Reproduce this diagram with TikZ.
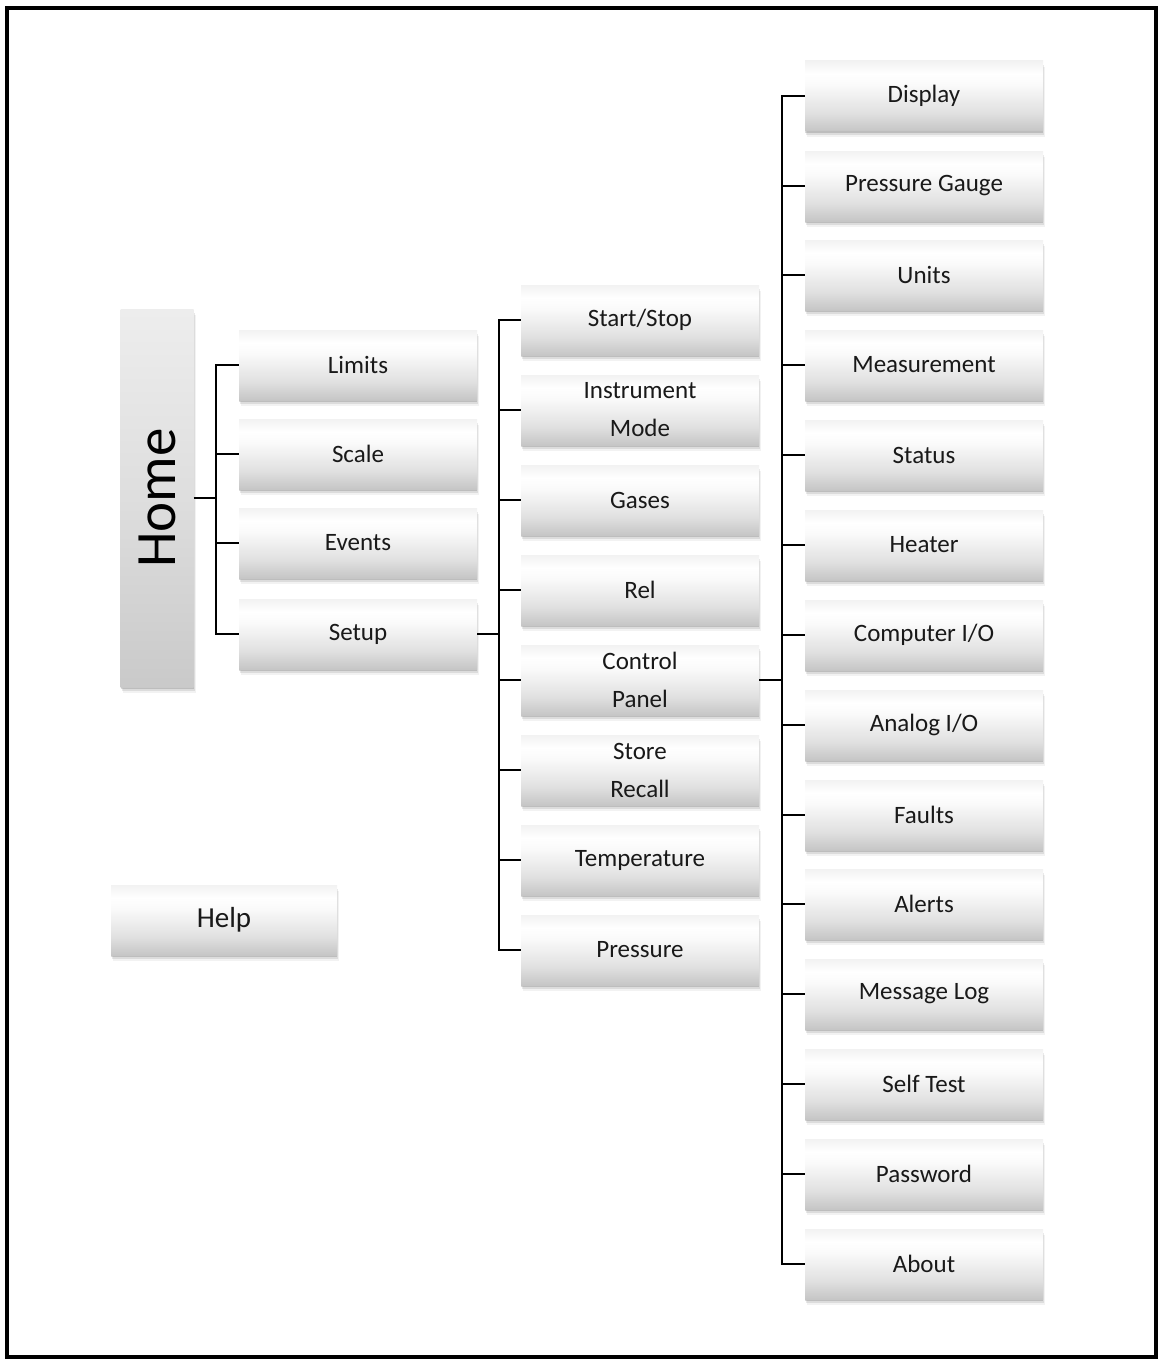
\documentclass[tikz,border=0pt]{standalone}
\usepackage{fontspec}
\setmainfont{Carlito}
\usetikzlibrary{shadows}
\pgfdeclareverticalshading{btnshade}{100bp}{color(0bp)=(gray!45); color(25bp)=(gray!45); color(38bp)=(gray!24); color(58bp)=(gray!4); color(66bp)=(white); color(75bp)=(gray!10); color(100bp)=(gray!10)}
\pgfdeclareverticalshading{homeshade}{100bp}{color(0bp)=(gray!42); color(25bp)=(gray!42); color(50bp)=(gray!26); color(75bp)=(gray!14); color(100bp)=(gray!14)}
\tikzset{
  softshadow/.style={
    drop shadow={shadow xshift=0pt, shadow yshift=-2pt, opacity=0.14, fill=black},
    drop shadow={shadow xshift=1pt, shadow yshift=-4pt, opacity=0.09, fill=black},
    drop shadow={shadow xshift=2pt, shadow yshift=-6pt, opacity=0.05, fill=black}},
  btn/.style={shading=btnshade, draw=none, minimum width=238pt, minimum height=70pt,
    inner sep=0pt, align=center, text=black!90,
    font=\fontsize{25}{38}\selectfont, softshadow},
  homebox/.style={shading=homeshade, draw=none, minimum width=73pt, minimum height=378pt,
    inner sep=0pt, font=\fontsize{57}{60}\selectfont, softshadow},
  link/.style={line width=2.4pt, black},
}
\begin{document}
\begin{tikzpicture}[x=1pt,y=-1pt]
\useasboundingbox (0,0) rectangle (1162,1362);
\draw[line width=4pt] (7,8) rectangle (1156,1357);

% Home
\node[homebox] (home) at (157,498) {\rotatebox{90}{Home}};

% Column 1
\node[btn] (limits) at (358,365) {Limits};
\node[btn] (scale)  at (358,454) {Scale};
\node[btn] (events) at (358,543) {Events};
\node[btn] (setup)  at (358,634) {Setup};

% Help
\node[btn, minimum width=226pt, font=\fontsize{29}{34}\selectfont] (help) at (224,920) {Help};

% Column 2
\node[btn] (start) at (640,320) {Start/Stop};
\node[btn] (instr) at (640,410) {Instrument\\Mode};
\node[btn] (gases) at (640,500) {Gases};
\node[btn] (rel)   at (640,590) {Rel};
\node[btn] (cpanel) at (640,680) {Control\\Panel};
\node[btn] (store) at (640,770) {Store\\Recall};
\node[btn] (temp)  at (640,860) {Temperature};
\node[btn] (press) at (640,950) {Pressure};

% Column 3
\node[btn] (display) at (924,96)   {Display};
\node[btn] (gauge)   at (924,186)  {Pressure Gauge};
\node[btn] (units)   at (924,275)  {Units};
\node[btn] (meas)    at (924,365)  {Measurement};
\node[btn] (status)  at (924,455)  {Status};
\node[btn] (heater)  at (924,545)  {Heater};
\node[btn] (compio)  at (924,635)  {Computer I/O};
\node[btn] (anio)    at (924,725)  {Analog I/O};
\node[btn] (faults)  at (924,815)  {Faults};
\node[btn] (alerts)  at (924,904)  {Alerts};
\node[btn] (msglog)  at (924,994)  {Message Log};
\node[btn] (selft)   at (924,1084) {Self Test};
\node[btn] (passw)   at (924,1174) {Password};
\node[btn] (about)   at (924,1264) {About};

% Junctions
\coordinate (j1) at (216,498);
\coordinate (j2) at (499,634);
\coordinate (j3) at (782,680);

% Connectors: Home
\draw[link] (home.east) -- (j1);
\draw[link] (limits.west) -- (limits.west -| j1) -- (setup.west -| j1) -- (setup.west);
\foreach \n in {scale,events}{\draw[link] (\n.west) -- (\n.west -| j1);}

% Connectors: Setup
\draw[link] (setup.east) -- (j2);
\draw[link] (start.west) -- (start.west -| j2) -- (press.west -| j2) -- (press.west);
\foreach \n in {instr,gases,rel,cpanel,store,temp}{\draw[link] (\n.west) -- (\n.west -| j2);}

% Connectors: Control Panel
\draw[link] (cpanel.east) -- (j3);
\draw[link] (display.west) -- (display.west -| j3) -- (about.west -| j3) -- (about.west);
\foreach \n in {gauge,units,meas,status,heater,compio,anio,faults,alerts,msglog,selft,passw}{\draw[link] (\n.west) -- (\n.west -| j3);}
\end{tikzpicture}
\end{document}
